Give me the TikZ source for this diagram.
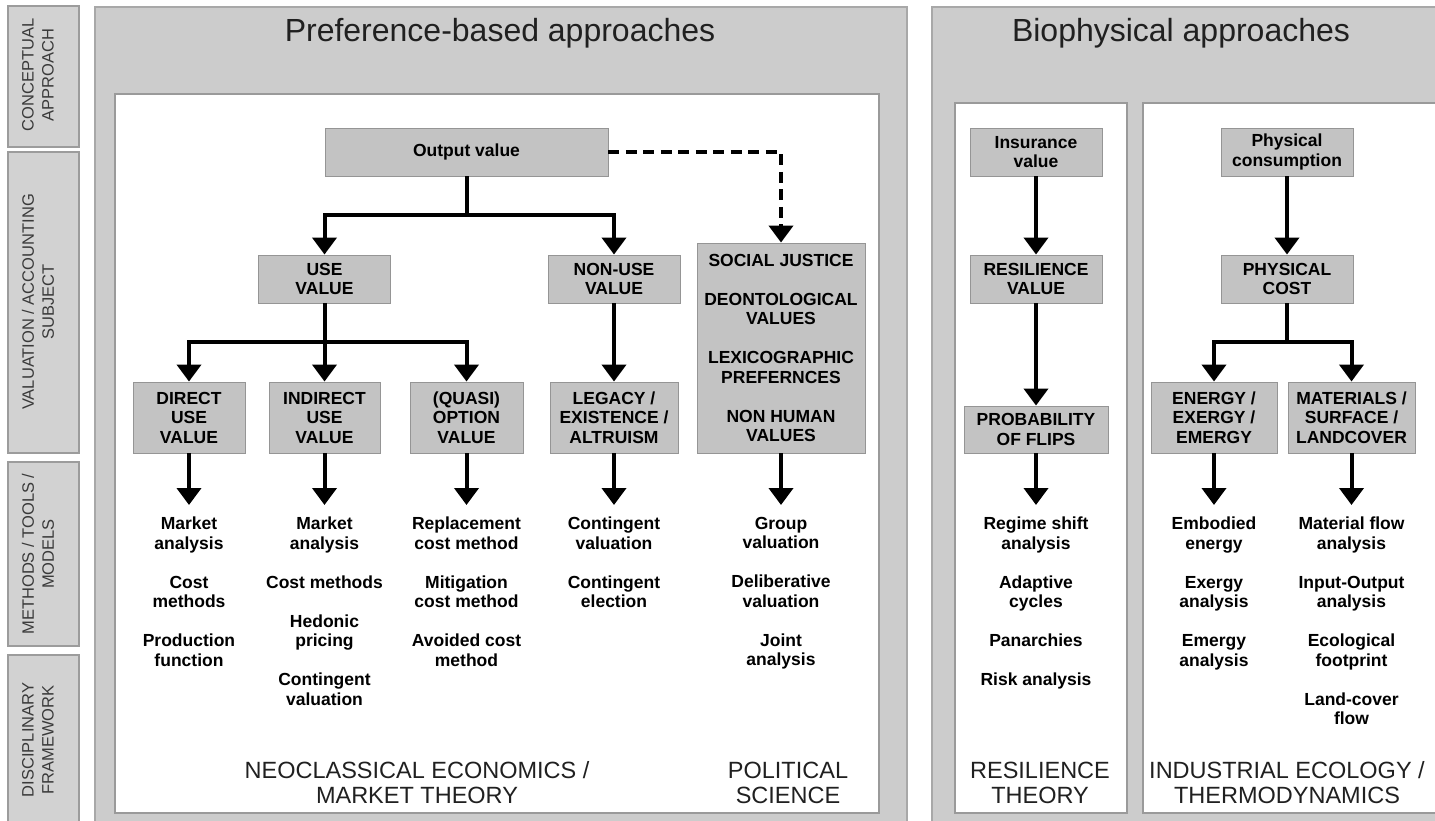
\documentclass[tikz,border=0pt]{standalone}
\usepackage{fontspec}
\setmainfont{Liberation Sans}
\usetikzlibrary{arrows.meta}
\definecolor{panelgray}{HTML}{CCCCCC}
\definecolor{panelline}{HTML}{A8A8A8}
\definecolor{innerline}{HTML}{9A9A9A}
\definecolor{boxgray}{HTML}{C3C3C3}
\definecolor{boxline}{HTML}{959595}
\definecolor{labgray}{HTML}{D2D2D2}
\definecolor{labline}{HTML}{9C9C9C}
\definecolor{labtext}{HTML}{3A3A3A}
\definecolor{titletext}{HTML}{202020}
\newcommand{\boxfnt}{\fontsize{17.5}{19.5}\selectfont\bfseries}
\newcommand{\titlefnt}{\fontsize{32}{36}\selectfont}
\newcommand{\discfnt}{\fontsize{23.5}{25}\selectfont}
\newcommand{\labfnt}{\fontsize{16.5}{20}\selectfont}
\tikzset{
  panel/.style={fill=panelgray, draw=panelline, line width=1.2pt},
  innerpanel/.style={fill=white, draw=innerline, line width=1.6pt},
  labbox/.style={fill=labgray, draw=labline, line width=1.2pt},
  labtxt/.style={rotate=90, align=center, font=\labfnt, text=labtext, inner sep=0pt},
  vbox/.style={fill=boxgray, draw=boxline, line width=0.9pt, inner sep=0pt, align=center, font=\boxfnt},
  methods/.style={anchor=north, align=center, font=\boxfnt, inner sep=0pt},
  disc/.style={align=center, font=\discfnt, text=titletext, inner sep=0pt},
  ttl/.style={anchor=base, font=\titlefnt, text=titletext, inner sep=0pt},
  link/.style={line width=4pt},
  arr/.style={line width=4pt, -{Triangle[width=24pt,length=17pt]}},
  dasharr/.style={line width=4pt, dash pattern=on 11pt off 6.5pt, -{Triangle[width=24pt,length=17pt]}}
}
\begin{document}
\begin{tikzpicture}[x=1pt,y=-1pt]
\useasboundingbox (0,0) rectangle (1435,821);
\clip (0,0) rectangle (1435,821);
\fill[white] (0,0) rectangle (1435,821);

% left label column
\draw[labbox] (8,6) rectangle (79,147);
\draw[labbox] (8,152) rectangle (79,453);
\draw[labbox] (8,462) rectangle (79,646);
\draw[labbox] (8,655) rectangle (79,830);
\node[labtxt] (lab1) at (38,75) {CONCEPTUAL\\APPROACH};
\node[labtxt] (lab2) at (38,302) {VALUATION / ACCOUNTING\\SUBJECT};
\node[labtxt] (lab3) at (38,554) {METHODS / TOOLS /\\MODELS};
\node[labtxt] (lab4) at (38,740) {DISCIPLINARY\\FRAMEWORK};

% panels
\draw[panel] (95,7) rectangle (907,830);
\draw[innerpanel] (115,94) rectangle (879,813);
\draw[panel] (932,7) rectangle (1445,830);
\draw[innerpanel] (955,103) rectangle (1127,813);
\draw[innerpanel] (1143,103) rectangle (1445,813);

\node[ttl] (t1) at (500,41.5) {Preference-based approaches};
\node[ttl] (t2) at (1181,41.5) {Biophysical approaches};

% preference-based boxes
\node[vbox, minimum width=283pt, minimum height=48pt] (out) at (466.5,152) {Output value};
\node[vbox, minimum width=132pt, minimum height=48pt] (use) at (324.5,279) {USE\\VALUE};
\node[vbox, minimum width=132pt, minimum height=48pt] (nonuse) at (614,279) {NON-USE\\VALUE};
\node[vbox, minimum width=168pt, minimum height=210pt] (social) at (781,348) {SOCIAL JUSTICE\\[19.5pt]DEONTOLOGICAL\\VALUES\\[19.5pt]LEXICOGRAPHIC\\PREFERNCES\\[19.5pt]NON HUMAN\\VALUES};
\node[vbox, minimum width=112pt, minimum height=71pt] (direct) at (189,417.5) {DIRECT\\USE\\VALUE};
\node[vbox, minimum width=111pt, minimum height=71pt] (indirect) at (324.5,417.5) {INDIRECT\\USE\\VALUE};
\node[vbox, minimum width=113pt, minimum height=71pt] (quasi) at (466.5,417.5) {(QUASI)\\OPTION\\VALUE};
\node[vbox, minimum width=128pt, minimum height=71pt] (legacy) at (614,417.5) {LEGACY /\\EXISTENCE /\\ALTRUISM};

% biophysical boxes
\node[vbox, minimum width=132pt, minimum height=48pt] (ins) at (1036,152) {Insurance\\value};
\node[vbox, minimum width=132pt, minimum height=48pt] (res) at (1036,279) {RESILIENCE\\VALUE};
\node[vbox, minimum width=144pt, minimum height=47pt] (prob) at (1036,429.5) {PROBABILITY\\OF FLIPS};
\node[vbox, minimum width=132pt, minimum height=48pt] (phc) at (1287,152) {Physical\\consumption};
\node[vbox, minimum width=132pt, minimum height=48pt] (phcost) at (1287,279) {PHYSICAL\\COST};
\node[vbox, minimum width=126pt, minimum height=71pt] (energy) at (1214,417.5) {ENERGY /\\EXERGY /\\EMERGY};
\node[vbox, minimum width=127pt, minimum height=71pt] (mat) at (1351.5,417.5) {MATERIALS /\\SURFACE /\\LANDCOVER};

% method lists
\node[methods] (m1) at (189,517) {Market\\analysis\\[19.5pt]Cost\\methods\\[19.5pt]Production\\function};
\node[methods] (m2) at (324.5,517) {Market\\analysis\\[19.5pt]Cost methods\\[19.5pt]Hedonic\\pricing\\[19.5pt]Contingent\\valuation};
\node[methods] (m3) at (466.5,517) {Replacement\\cost method\\[19.5pt]Mitigation\\cost method\\[19.5pt]Avoided cost\\method};
\node[methods] (m4) at (614,517) {Contingent\\valuation\\[19.5pt]Contingent\\election};
\node[methods] (m5) at (781,517) {Group\\valuation\\[19.5pt]Deliberative\\valuation\\[19.5pt]Joint\\analysis};
\node[methods] (m6) at (1036,517) {Regime shift\\analysis\\[19.5pt]Adaptive\\cycles\\[19.5pt]Panarchies\\[19.5pt]Risk analysis};
\node[methods] (m7) at (1214,517) {Embodied\\energy\\[19.5pt]Exergy\\analysis\\[19.5pt]Emergy\\analysis};
\node[methods] (m8) at (1351.5,517) {Material flow\\analysis\\[19.5pt]Input-Output\\analysis\\[19.5pt]Ecological\\footprint\\[19.5pt]Land-cover\\flow};

% disciplinary frameworks
\node[disc] (d1) at (417,782.5) {NEOCLASSICAL ECONOMICS /\\MARKET THEORY};
\node[disc] (d2) at (788,782.5) {POLITICAL\\SCIENCE};
\node[disc] (d3) at (1040,782.5) {RESILIENCE\\THEORY};
\node[disc] (d4) at (1287,782.5) {INDUSTRIAL ECOLOGY /\\THERMODYNAMICS};

% connectors: preference-based tree
\coordinate (s1) at (466.5,215);
\coordinate (s2) at (324.5,342);
\coordinate (s3) at (1287,342);
\draw[link] (out.south) -- (s1);
\draw[arr] (s1) -| (use.north);
\draw[arr] (s1) -| (nonuse.north);
\draw[dasharr] (out.east) -| (social.north);
\draw[arr] (use.south) -- (indirect.north);
\draw[arr] (s2) -| (direct.north);
\draw[arr] (s2) -| (quasi.north);
\draw[arr] (nonuse.south) -- (legacy.north);

% biophysical tree
\draw[arr] (ins.south) -- (res.north);
\draw[arr] (res.south) -- (prob.north);
\draw[arr] (phc.south) -- (phcost.north);
\draw[link] (phcost.south) -- (s3);
\draw[arr] (s3) -| (energy.north);
\draw[arr] (s3) -| (mat.north);

% to methods
\draw[arr] (direct.south) -- ([yshift=12pt]m1.north);
\draw[arr] (indirect.south) -- ([yshift=12pt]m2.north);
\draw[arr] (quasi.south) -- ([yshift=12pt]m3.north);
\draw[arr] (legacy.south) -- ([yshift=12pt]m4.north);
\draw[arr] (social.south) -- ([yshift=12pt]m5.north);
\draw[arr] (prob.south) -- ([yshift=12pt]m6.north);
\draw[arr] (energy.south) -- ([yshift=12pt]m7.north);
\draw[arr] (mat.south) -- ([yshift=12pt]m8.north);
\end{tikzpicture}
\end{document}
